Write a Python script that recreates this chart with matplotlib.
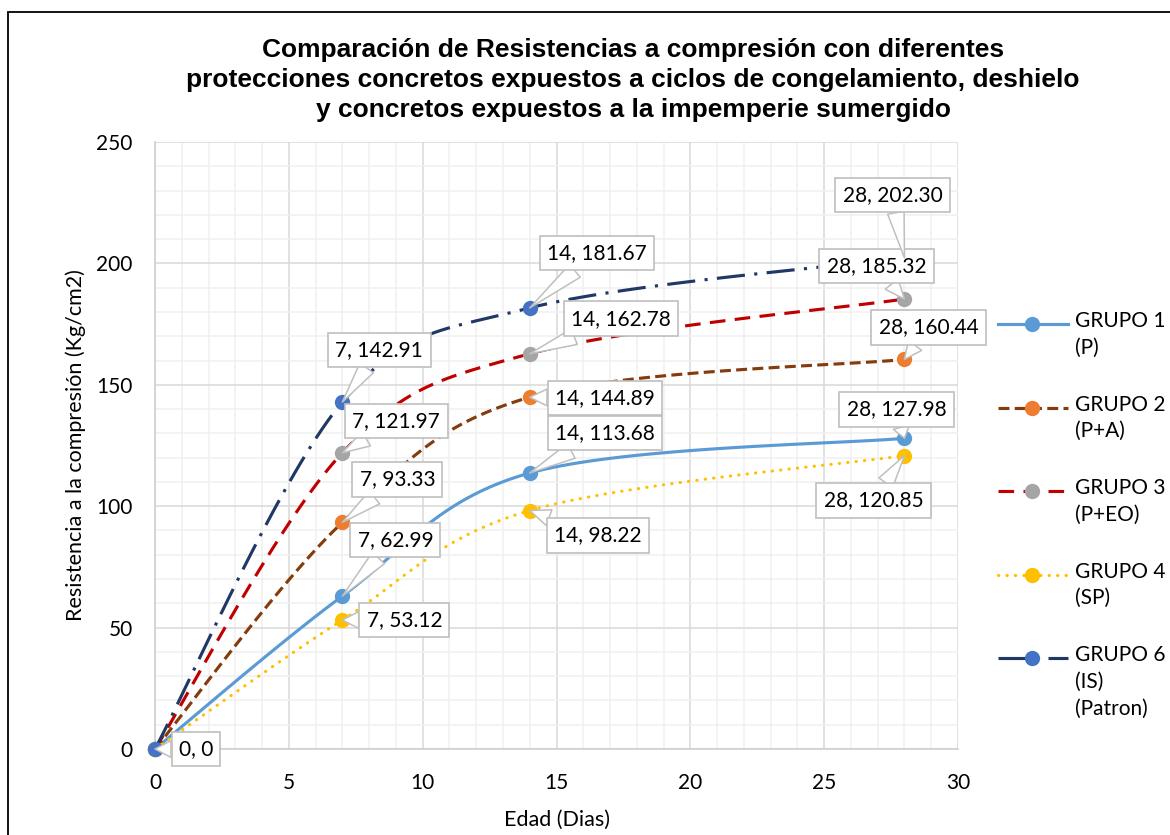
import numpy as np
import matplotlib.pyplot as plt
from matplotlib.lines import Line2D
from matplotlib.patches import Rectangle
from matplotlib.ticker import MultipleLocator

# datos
edad = [0, 7, 14, 28]
grupo1 = [0, 62.99, 113.68, 127.98]
grupo2 = [0, 93.33, 144.89, 160.44]
grupo3 = [0, 121.97, 162.78, 185.32]
grupo4 = [0, 53.12, 98.22, 120.85]
grupo6 = [0, 142.91, 181.67, 202.30]
nombres = ["GRUPO 1\n(P)", "GRUPO 2\n(P+A)", "GRUPO 3\n(P+EO)",
           "GRUPO 4\n(SP)", "GRUPO 6\n(IS)\n(Patron)"]

W, H = 1170, 835
FONT = "Lato"


def suavizar(xs, ys, n=40):
    # linea suavizada tipo excel (bezier con tension 1/6)
    p = np.column_stack([xs, ys]).astype(float)
    out = [p[0]]
    for i in range(len(p) - 1):
        p0 = p[max(i - 1, 0)]
        p1, p2 = p[i], p[i + 1]
        p3 = p[min(i + 2, len(p) - 1)]
        c1 = p1 + (p2 - p0) / 6
        c2 = p2 - (p3 - p1) / 6
        t = np.linspace(0, 1, n)[1:, None]
        seg = (1 - t)**3 * p1 + 3 * (1 - t)**2 * t * c1 + 3 * (1 - t) * t**2 * c2 + t**3 * p2
        out.extend(seg)
    out = np.array(out)
    return out[:, 0], out[:, 1]


# (valores, color linea, color marcador, estilo, capstyle, offsets etiquetas)
series = [
    (grupo1, '#5B9BD5', '#5B9BD5', '-', 'butt', [None, (53, 56), (75, 40), (-8, 29)]),
    (grupo2, '#843C0C', '#ED7D31', (0, (3.5, 1.7)), 'butt', [None, (55, 43), (75, -1), (24, 32)]),
    (grupo3, '#C00000', '#A5A5A5', (0, (5, 3)), 'butt', [None, (54, 32), (91, 35), (-28, 33)]),
    (grupo4, '#FFC000', '#FFC000', (0, (0.1, 2.6)), 'round', [None, (62, 0), (68, -25), (-31, -45)]),
    (grupo6, '#203864', '#4472C4', (0, (9, 3, 1, 3)), 'butt', [(41, 0), (37, 52), (67, 55), (-12, 63)]),
]

fig = plt.figure(figsize=(W / 100, H / 100), dpi=100)
ax = fig.add_axes([155 / W, (H - 749) / H, (958 - 155) / W, (749 - 142) / H])

ax.set_xlim(0, 30)
ax.set_ylim(0, 250)
ax.xaxis.set_major_locator(MultipleLocator(5))
ax.xaxis.set_minor_locator(MultipleLocator(1))
ax.yaxis.set_major_locator(MultipleLocator(50))
ax.yaxis.set_minor_locator(MultipleLocator(10))
ax.grid(which='major', color='#D9D9D9', lw=1.1)
ax.grid(which='minor', color='#F0F0F0', lw=1.1)
ax.set_axisbelow(True)
ax.tick_params(which='both', length=0)
ax.tick_params(axis='x', pad=17)
ax.tick_params(axis='y', pad=16)
for lab in ax.get_xticklabels() + ax.get_yticklabels():
    lab.set_fontfamily(FONT)
    lab.set_fontsize(15)
for s in ['top', 'right']:
    ax.spines[s].set_visible(False)
for s in ['left', 'bottom']:
    ax.spines[s].set_color('#CFCFCF')
    ax.spines[s].set_linewidth(1.2)

for i, (vals, lc, mc, ls, cap, offs) in enumerate(series):
    sx, sy = suavizar(edad, vals)
    ax.plot(sx, sy, color=lc, lw=2.25, ls=ls, dash_capstyle=cap, zorder=3 + i, clip_on=False)
    ax.plot(edad, vals, 'o', color=mc, ms=10, zorder=3.5 + i, clip_on=False)

for vals, lc, mc, ls, cap, offs in series:
    for x, y, off in zip(edad, vals, offs):
        if off is None:
            continue
        txt = f"{x}, {y:.2f}" if y else f"{x}, 0"
        ax.annotate(txt, (x, y), xytext=off, textcoords='offset pixels',
                    ha='center', va='center', fontsize=15, family=FONT, zorder=20,
                    bbox=dict(boxstyle='square,pad=0.35', fc='white', ec='#BFBFBF', lw=1.2),
                    arrowprops=dict(arrowstyle='wedge,tail_width=0.8', fc='white',
                                    ec='#BFBFBF', lw=1.1, shrinkA=0, shrinkB=0))

# leyenda manual
for i, ((vals, lc, mc, ls, cap, offs), nombre) in enumerate(zip(series, nombres)):
    yp = 324 + i * 83.5
    yf = (H - yp) / H
    fig.add_artist(Line2D([998 / W, 1068 / W], [yf, yf], color=lc, lw=2.25, ls=ls,
                          dash_capstyle=cap, transform=fig.transFigure))
    fig.add_artist(Line2D([1032 / W], [yf], marker='o', color=mc, ms=10,
                          transform=fig.transFigure))
    fig.text(1075 / W, (H - yp + 13) / H, nombre, ha='left', va='top',
             fontsize=15, family=FONT, linespacing=1.42)

fig.text(633 / W, (H - 80) / H,
         "Comparación de Resistencias a compresión con diferentes\n"
         "protecciones concretos expuestos a ciclos de congelamiento, deshielo\n"
         "y concretos expuestos a la impemperie sumergido",
         ha='center', va='center', fontsize=19, fontweight='bold',
         family='Liberation Sans', linespacing=1.3, color='black')

fig.text(557 / W, (H - 820) / H, "Edad (Dias)", ha='center', va='center',
         fontsize=15.5, family=FONT)
fig.text(76 / W, (H - 445) / H, "Resistencia a la compresión (Kg/cm2)", ha='center',
         va='center', rotation=90, fontsize=15.5, family=FONT)

fig.add_artist(Rectangle((8 / W, -0.1), 1.2, (H - 12) / H + 0.1, fill=False, ec='black',
                         lw=1.3, transform=fig.transFigure))

fig.savefig('out.png', dpi=100)
